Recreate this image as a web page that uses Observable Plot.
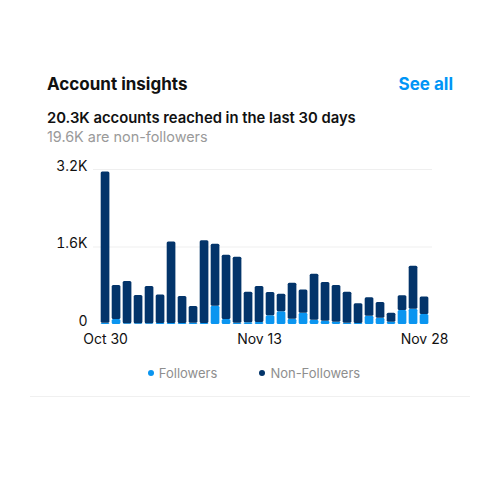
<!DOCTYPE html>
<html>
<head>
<meta charset="utf-8">
<script src="https://cdn.jsdelivr.net/npm/d3@7"></script>
<script src="https://cdn.jsdelivr.net/npm/@observablehq/plot@0.6"></script>
<style>
  html, body { margin: 0; padding: 0; background: #fff; }
  #wrap { position: relative; width: 500px; height: 500px; font-family: Inter, "Noto Sans", sans-serif; color: #111; }
  .abs { position: absolute; white-space: nowrap; line-height: 1; }
  #title { left: 47px; top: 76px; font-size: 17px; font-weight: 700; }
  #seeall { right: 47px; top: 76px; font-size: 17px; font-weight: 700; color: #0095f6; }
  #sub1 { left: 47px; top: 111px; font-size: 14.8px; font-weight: 600; }
  #sub2 { left: 47px; top: 130px; font-size: 14.4px; color: #9a9a9a; }
  #chart { position: absolute; left: 0; top: 150px; }
  #legend { position: absolute; left: 4px; width: 500px; top: 365px; display: flex; justify-content: center; gap: 42px; font-size: 13px; color: #8e8e8e; }
  #legend span.item { display: flex; align-items: center; gap: 5px; }
  #legend span.dot { width: 6px; height: 6px; border-radius: 50%; display: inline-block; }
  #sep { position: absolute; left: 30px; width: 440px; top: 396px; height: 1px; background: #f0f0f0; }
</style>
</head>
<body>
<div id="wrap">
  <div id="title" class="abs">Account insights</div>
  <div id="seeall" class="abs">See all</div>
  <div id="sub1" class="abs">20.3K accounts reached in the last 30 days</div>
  <div id="sub2" class="abs">19.6K are non-followers</div>
  <div id="chart"></div>
  <div id="legend"></div>
  <div id="sep"></div>
</div>
<script>
const days = d3.range(30).map(i => i); // day index 0 = Oct 30 … 29 = Nov 28
const dayLabels = {0: "Oct 30", 14: "Nov 13", 29: "Nov 28"};
const totals = [3146, 804, 886, 598, 783, 611, 1704, 577, 371, 1731,
                1656, 1429, 1388, 666, 783, 660, 625, 852, 714, 1037,
                866, 804, 666, 426, 550, 453, 234, 591, 1202, 570];
const followers = [27, 103, 14, 14, 14, 21, 21, 21, 27, 21,
                   378, 103, 27, 34, 41, 179, 261, 110, 234, 89,
                   69, 48, 27, 21, 172, 130, 48, 289, 316, 206];
const seriesNames = ["Followers", "Non-Followers"];
const seriesColors = ["#0a95f0", "#03346a"];
const yTicks = [0, 1600, 3200];
const yTickLabels = ["0", "1.6K", "3.2K"];

const rows = [];
days.forEach((d, i) => {
  rows.push({day: d, series: seriesNames[0], value: followers[i]});
  rows.push({day: d, series: seriesNames[1], value: totals[i] - followers[i]});
});

const chart = Plot.plot({
  width: 500,
  height: 210,
  marginTop: 19,
  marginBottom: 36,
  marginLeft: 93,
  marginRight: 68,
  style: {fontFamily: "Inter, 'Noto Sans', sans-serif", fontSize: "14px", color: "#111"},
  x: {type: "band", domain: days, round: false, paddingInner: 0.21, paddingOuter: 0.515, align: 0.68},
  y: {domain: [0, 3200]},
  color: {domain: seriesNames, range: seriesColors},
  marks: [
    Plot.ruleY(yTicks.filter(t => t > 0), {stroke: "#efefef", strokeWidth: 1}),
    Plot.barY(rows, {x: "day", y: "value", fill: "series", order: seriesNames, rx: 1.5}),
    Plot.axisY(yTicks, {tickSize: 0, tickPadding: 6, dy: -3, tickFormat: (d, i) => yTickLabels[yTicks.indexOf(d)], fontSize: 14, fill: "#111", label: null}),
    Plot.axisX(Object.keys(dayLabels).map(Number), {tickSize: 0, tickPadding: 10, tickFormat: d => dayLabels[d], fontSize: 14, fill: "#111", label: null})
  ]
});
document.getElementById("chart").appendChild(chart);

const legend = document.getElementById("legend");
seriesNames.forEach((n, i) => {
  const item = document.createElement("span");
  item.className = "item";
  const dot = document.createElement("span");
  dot.className = "dot";
  dot.style.background = seriesColors[i];
  const t = document.createElement("span");
  t.textContent = n;
  item.appendChild(dot); item.appendChild(t);
  legend.appendChild(item);
});
</script>
</body>
</html>
